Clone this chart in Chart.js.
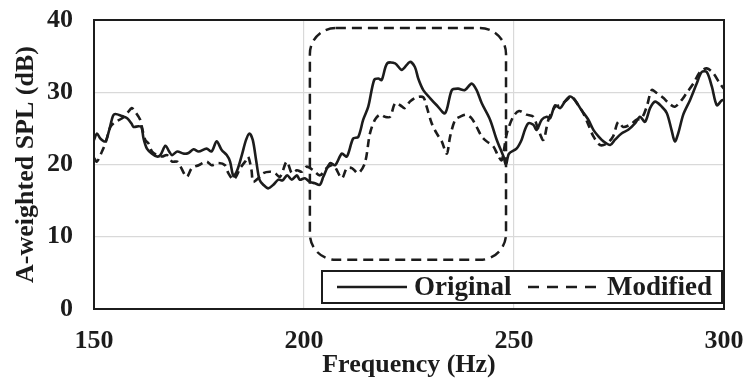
<!DOCTYPE html>
<html>
<head>
<meta charset="utf-8">
<script src="https://cdn.jsdelivr.net/npm/chart.js@4"></script>
<style>
  html, body { margin: 0; padding: 0; background: #fff; }
  #wrap { width: 747px; height: 381px; }
</style>
</head>
<body>
<div id="wrap"><canvas id="splChart"></canvas></div>
<script>
// values
const origFreq = [150, 150.7, 151.5, 152.7, 153.5, 154.5, 155.1, 156.7, 157.9, 158.9, 159.4, 160.6, 161.3, 161.8, 162.6, 163.8, 165, 165.8, 167, 167.9, 168.6, 169.8, 171.4, 172.5, 173.7, 174.9, 176.8, 178, 179.2, 180.4, 181.6, 182.4, 183.2, 184.1, 185.2, 186.2, 187, 187.8, 188.6, 189.4, 190.3, 191.5, 192.7, 193.9, 194.9, 196, 197.1, 198.3, 199, 200.2, 201.4, 202.6, 203.8, 204.6, 206.2, 207.4, 209, 210.2, 211.7, 212.9, 214.1, 215.3, 216.7, 217.7, 218.5, 219.8, 221.7, 223.3, 225.2, 226.4, 227.2, 228.4, 230, 231.6, 233.6, 235.2, 236.7, 238.3, 239.9, 241.1, 242.3, 244.3, 245.9, 247.5, 248.1, 248.8, 250.6, 251.8, 252.6, 253.4, 254.6, 255.4, 256.6, 257.8, 258.6, 259.8, 261, 262.1, 263.3, 264.5, 266.1, 267.7, 268.9, 270.1, 271.3, 272.9, 274, 275.6, 277.2, 278.8, 280, 281.2, 282.4, 283.6, 285.2, 286.4, 287.5, 288.3, 289.1, 290.3, 291.9, 293.5, 294.7, 295.9, 297.1, 298.3, 299.5, 300];
const origSpl = [23.4, 24.3, 23.6, 23.2, 24.5, 26.7, 27.0, 26.7, 26.4, 25.7, 25.2, 25.3, 25.2, 23.6, 22.2, 21.5, 21.1, 21.3, 22.6, 21.8, 21.3, 21.8, 21.5, 21.6, 22.1, 21.8, 22.2, 21.8, 23.2, 22.0, 21.3, 20.4, 18.4, 19.2, 21.3, 23.4, 24.3, 23.4, 20.6, 17.9, 17.2, 16.7, 17.2, 17.9, 17.8, 18.5, 17.9, 18.5, 17.9, 18.1, 17.6, 17.4, 17.2, 18.3, 20.2, 19.9, 21.5, 21.1, 23.6, 23.8, 26.2, 28.0, 31.7, 31.9, 31.7, 34.0, 34.0, 33.1, 34.2, 33.5, 31.9, 30.3, 29.2, 28.2, 27.1, 30.3, 30.5, 30.3, 31.2, 30.3, 28.5, 26.2, 23.4, 21.1, 20.0, 21.5, 22.2, 23.4, 24.8, 25.7, 25.5, 24.8, 26.2, 26.6, 26.4, 28.2, 27.8, 28.7, 29.4, 28.9, 27.5, 26.2, 24.8, 23.9, 23.2, 22.7, 23.4, 24.3, 24.8, 25.7, 26.6, 25.9, 27.8, 28.7, 28.0, 27.1, 24.8, 23.2, 24.3, 26.9, 28.9, 31.2, 32.8, 32.8, 30.8, 28.2, 28.9, 28.9];

const modFreq = [150, 150.7, 151.9, 152.7, 153.9, 155.1, 156.7, 157.9, 159, 159.8, 161, 161.4, 162.2, 163, 163.8, 165, 166.2, 167.4, 168.6, 169.8, 170.6, 172.1, 173.3, 174.9, 176.8, 178, 179.6, 181.2, 182, 183.2, 184, 184.8, 186, 186.7, 187.5, 187.9, 189.1, 190.3, 191.9, 193.1, 194.3, 195.9, 197.1, 198.3, 199.5, 200.6, 202.2, 203.8, 205.4, 207, 209, 210.2, 211.4, 212.9, 214.5, 215.7, 216.9, 218.1, 219.3, 220.5, 221.7, 222.9, 224, 225.2, 226.8, 228.4, 229.2, 230.4, 231.6, 232.8, 234, 234.8, 236, 237.1, 238.7, 239.9, 241.1, 242.3, 243.5, 245.1, 246.3, 247.1, 248.3, 249.8, 251.2, 253, 254.6, 255.8, 257, 258.2, 259.8, 261, 262.5, 263.7, 265.3, 266.5, 267.7, 268.9, 270.5, 272.1, 273.6, 274.8, 276, 277.6, 279.2, 280.4, 281.6, 282.8, 284, 285.6, 286.8, 288.3, 289.9, 291.1, 292.7, 294.3, 295.9, 297.5, 299, 300];
const modSpl = [20.9, 20.4, 21.8, 22.9, 25.2, 25.9, 26.4, 27.1, 27.8, 27.3, 26.2, 25.2, 23.4, 22.9, 21.8, 21.3, 21.1, 21.3, 20.4, 20.4, 19.7, 18.3, 19.5, 19.9, 20.4, 19.9, 20.2, 19.9, 18.8, 17.9, 18.5, 19.5, 20.4, 21.1, 19.2, 17.6, 18.1, 18.8, 19.0, 18.8, 18.3, 20.4, 18.8, 19.2, 19.0, 19.7, 19.2, 18.5, 19.5, 19.9, 18.1, 19.5, 19.5, 18.8, 20.2, 24.3, 26.2, 26.9, 26.6, 26.6, 28.5, 28.2, 27.8, 28.7, 29.3, 29.3, 28.0, 25.7, 24.3, 23.2, 21.5, 23.9, 26.2, 26.6, 26.9, 26.4, 25.2, 23.9, 23.2, 22.5, 21.1, 20.6, 24.3, 26.6, 27.4, 26.9, 26.6, 24.8, 23.4, 26.2, 28.0, 28.2, 28.9, 29.4, 28.2, 27.1, 25.5, 23.9, 22.7, 22.9, 23.9, 25.9, 25.2, 25.5, 26.2, 26.4, 28.0, 30.3, 29.9, 29.2, 28.5, 28.0, 28.9, 29.9, 31.2, 32.8, 33.3, 32.6, 31.2, 30.5];

const seriesNames = ['Original', 'Modified'];
const xTicks = [150, 200, 250, 300];
const yTicks = [0, 10, 20, 30, 40];
// highlighted band (Hz, dB)
const boxFreq = [201.4, 248.1];
const boxSpl = [6.8, 38.9];

const ink = '#1c1c1c';
const serif = '"Liberation Serif", "Times New Roman", serif';

function toPoints(xs, ys) {
  return xs.map((x, i) => ({ x: x, y: ys[i] }));
}

function roundRect(ctx, x, y, w, h, r) {
  ctx.beginPath();
  ctx.moveTo(x + r, y);
  ctx.lineTo(x + w - r, y);
  ctx.arcTo(x + w, y, x + w, y + r, r);
  ctx.lineTo(x + w, y + h - r);
  ctx.arcTo(x + w, y + h, x + w - r, y + h, r);
  ctx.lineTo(x + r, y + h);
  ctx.arcTo(x, y + h, x, y + h - r, r);
  ctx.lineTo(x, y + r);
  ctx.arcTo(x, y, x + r, y, r);
  ctx.closePath();
}

// frame, dashed highlight box and the in-plot legend
const extras = {
  id: 'extras',
  afterDatasetsDraw(chart) {
    const ctx = chart.ctx;
    const a = chart.chartArea;
    const xs = chart.scales.x, ys = chart.scales.y;
    ctx.save();

    const bx0 = xs.getPixelForValue(boxFreq[0]);
    const bx1 = xs.getPixelForValue(boxFreq[1]);
    const by0 = ys.getPixelForValue(boxSpl[1]);
    const by1 = ys.getPixelForValue(boxSpl[0]);
    ctx.setLineDash([10, 6]);
    ctx.lineWidth = 2.5;
    ctx.strokeStyle = ink;
    roundRect(ctx, bx0, by0, bx1 - bx0, by1 - by0, 26);
    ctx.stroke();

    // legend box, anchored to the plot's lower right corner
    const lw = 400, lh = 32;
    const lx = a.right - 2 - lw, ly = a.bottom - 6 - lh;
    ctx.setLineDash([]);
    ctx.fillStyle = '#fff';
    ctx.fillRect(lx, ly, lw, lh);
    ctx.lineWidth = 2;
    ctx.strokeRect(lx, ly, lw, lh);

    const my = ly + lh / 2;
    ctx.lineWidth = 2.5;
    ctx.beginPath();
    ctx.moveTo(lx + 15, my); ctx.lineTo(lx + 85, my);
    ctx.stroke();
    ctx.setLineDash([11, 8]);
    ctx.beginPath();
    ctx.moveTo(lx + 206, my); ctx.lineTo(lx + 278, my);
    ctx.stroke();
    ctx.setLineDash([]);

    ctx.fillStyle = ink;
    ctx.font = 'bold 27px ' + serif;
    ctx.textBaseline = 'middle';
    ctx.textAlign = 'left';
    ctx.fillText(seriesNames[0], lx + 92, my + 1);
    ctx.fillText(seriesNames[1], lx + 285, my + 1);

    // plot frame
    ctx.lineWidth = 2;
    ctx.strokeRect(a.left, a.top, a.right - a.left, a.bottom - a.top);
    ctx.restore();
  }
};

new Chart(document.getElementById('splChart'), {
  type: 'line',
  data: {
    datasets: [{
      label: seriesNames[0],
      data: toPoints(origFreq, origSpl),
      borderColor: ink,
      borderWidth: 2.6,
      pointRadius: 0,
      tension: 0.3
    }, {
      label: seriesNames[1],
      data: toPoints(modFreq, modSpl),
      borderColor: ink,
      borderWidth: 2.6,
      borderDash: [8, 5],
      pointRadius: 0,
      tension: 0.3
    }]
  },
  options: {
    responsive: true,
    maintainAspectRatio: false,
    animation: false,
    layout: {
      padding: { left: 0, right: 0, top: 20, bottom: 0 }
    },
    plugins: {
      legend: { display: false },
      tooltip: { enabled: false }
    },
    scales: {
      x: {
        type: 'linear',
        min: 150,
        max: 300,
        afterFit: s => { s.height = 72; s.paddingRight = 23; },
        afterBuildTicks: s => { s.ticks = xTicks.map(v => ({ value: v })); },
        grid: { color: '#d9d9d9', lineWidth: 1.2, drawTicks: false },
        border: { display: false },
        ticks: {
          padding: 17,
          color: ink,
          font: { family: serif, size: 26, weight: 'bold' }
        },
        title: {
          display: true,
          text: 'Frequency (Hz)',
          color: ink,
          padding: { top: 0, bottom: 0 },
          font: { family: serif, size: 26, weight: 'bold' }
        }
      },
      y: {
        min: 0,
        max: 40,
        afterFit: s => { s.width = 94; s.paddingTop = 0; s.paddingBottom = 0; },
        afterBuildTicks: s => { s.ticks = yTicks.map(v => ({ value: v })); },
        grid: { color: '#d9d9d9', lineWidth: 1.2, drawTicks: false },
        border: { display: false },
        ticks: {
          padding: 21,
          color: ink,
          font: { family: serif, size: 26, weight: 'bold' }
        },
        title: {
          display: true,
          text: 'A-weighted SPL (dB)',
          color: ink,
          padding: { top: 11, bottom: 0 },
          font: { family: serif, size: 26, weight: 'bold' }
        }
      }
    }
  },
  plugins: [extras]
});
</script>
</body>
</html>
